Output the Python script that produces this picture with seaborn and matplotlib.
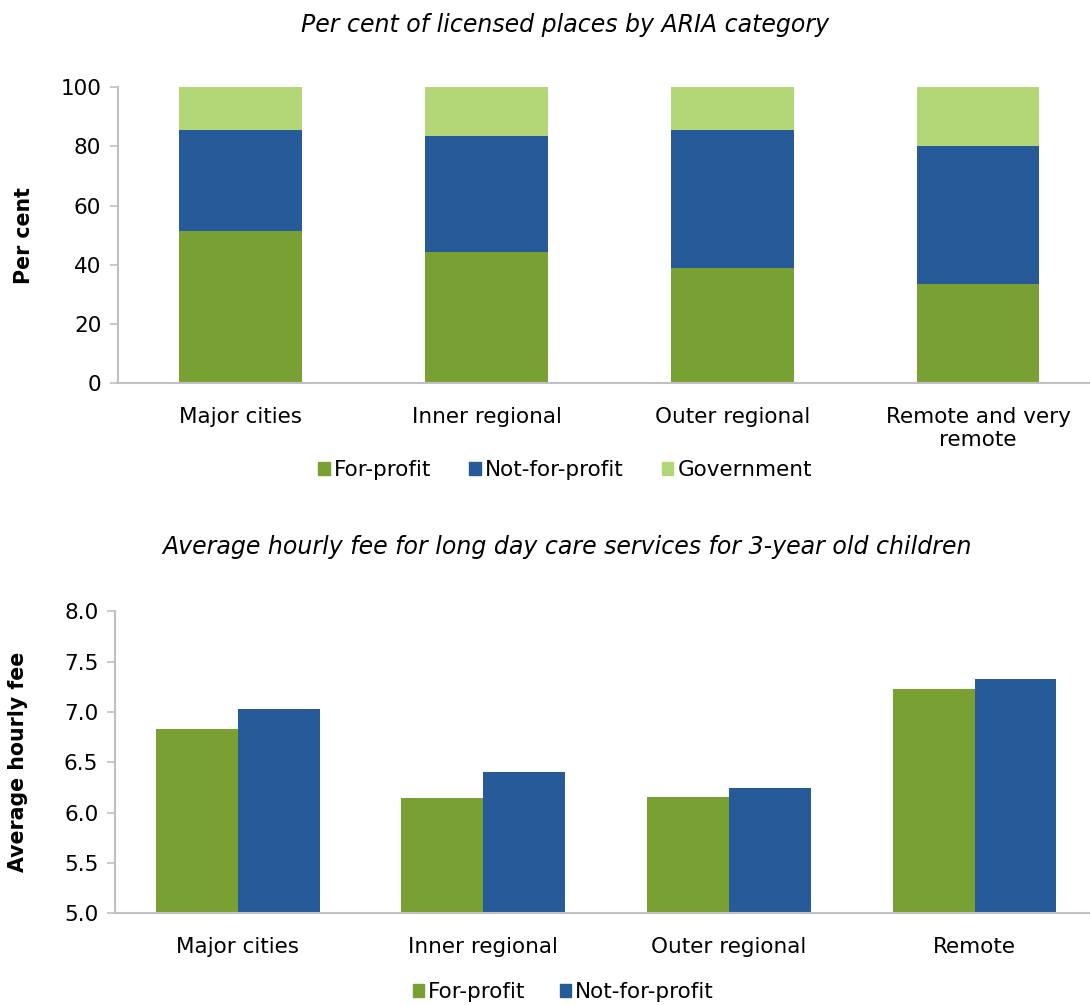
import pandas as pd
import matplotlib
matplotlib.use("Agg")
import matplotlib.pyplot as plt
from matplotlib.patches import Patch
import seaborn as sns

# ---------------------------------------------------------------------------
# Data
# ---------------------------------------------------------------------------
ARIA_CATEGORIES = ["Major cities", "Inner regional", "Outer regional", "Remote and very\nremote"]
FOR_PROFIT_SHARE = [51.6, 44.3, 39.0, 33.5]
NOT_FOR_PROFIT_SHARE = [34.0, 39.3, 46.6, 46.7]
GOVERNMENT_SHARE = [14.4, 16.4, 14.4, 19.8]

FEE_CATEGORIES = ["Major cities", "Inner regional", "Outer regional", "Remote"]
FOR_PROFIT_FEE = [6.83, 6.15, 6.16, 7.23]
NOT_FOR_PROFIT_FEE = [7.03, 6.40, 6.24, 7.33]

GREEN = "#78A032"
BLUE = "#275A99"
LIGHT_GREEN = "#B3D677"
SPINE = "#C0C0C0"

sns.set_theme(style="white")
plt.rcParams["font.family"] = ["DejaVu Sans"]
plt.rcParams["text.color"] = "#000000"
FS = 15.5
TITLE_FS = 17
LABEL_FS = 14.8


def style_axis(ax):
    sns.despine(ax=ax)
    for side in ("left", "bottom"):
        ax.spines[side].set_color(SPINE)
        ax.spines[side].set_linewidth(1.5)
    ax.tick_params(axis="y", which="both", left=True, length=6, width=1.2,
                   color=SPINE, labelsize=FS, pad=6, labelcolor="black")
    ax.tick_params(axis="x", bottom=False, labelsize=FS, pad=11, labelcolor="black")
    ax.set_xlabel("")


fig = plt.figure(figsize=(10.9, 10.05), dpi=100)

# ---------------------------------------------------------------------------
# Top: stacked share of licensed places
# ---------------------------------------------------------------------------
ax1 = fig.add_axes([118 / 1090, 1 - 383.3 / 1005, 972 / 1090, 296 / 1005])
share = pd.DataFrame({
    "category": ARIA_CATEGORIES,
    "fp": FOR_PROFIT_SHARE,
    "nfp": NOT_FOR_PROFIT_SHARE,
    "gov": GOVERNMENT_SHARE,
})
share["top"] = share["fp"] + share["nfp"] + share["gov"]
share["mid"] = share["fp"] + share["nfp"]
for col, color in (("top", LIGHT_GREEN), ("mid", BLUE), ("fp", GREEN)):
    sns.barplot(data=share, x="category", y=col, color=color, width=0.5,
                saturation=1, linewidth=0, ax=ax1)
ax1.set_ylim(0, 100)
ax1.set_yticks(range(0, 101, 20))
ax1.set_xlim(-0.5, 3.456)
ax1.set_ylabel("Per cent", fontsize=LABEL_FS, fontweight="bold", color="black")
ax1.yaxis.set_label_coords(-0.086, 0.5)
style_axis(ax1)
fig.text(565 / 1090, 1 - 25 / 1005, "Per cent of licensed places by ARIA category",
         ha="center", va="center", fontsize=TITLE_FS, style="italic")
fig.legend(handles=[Patch(color=GREEN, label="For-profit"),
                    Patch(color=BLUE, label="Not-for-profit"),
                    Patch(color=LIGHT_GREEN, label="Government")],
           loc="center", bbox_to_anchor=(565 / 1090, 1 - 470 / 1005), ncol=3,
           frameon=False, fontsize=FS, handlelength=0.55, handleheight=0.55,
           handletextpad=0.2, columnspacing=1.75)

# ---------------------------------------------------------------------------
# Bottom: average hourly fee
# ---------------------------------------------------------------------------
ax2 = fig.add_axes([115 / 1090, 1 - 913.3 / 1005, 975 / 1090, 302 / 1005])
fees = pd.DataFrame({
    "category": FEE_CATEGORIES * 2,
    "provider": ["For-profit"] * 4 + ["Not-for-profit"] * 4,
    "fee": FOR_PROFIT_FEE + NOT_FOR_PROFIT_FEE,
})
sns.barplot(data=fees, x="category", y="fee", hue="provider",
            palette=[GREEN, BLUE], width=0.667, gap=0, saturation=1,
            linewidth=0, legend=False, ax=ax2)
ax2.set_ylim(5.0, 8.0)
ax2.set_yticks([5.0, 5.5, 6.0, 6.5, 7.0, 7.5, 8.0])
ax2.set_yticklabels([f"{v:.1f}" for v in ax2.get_yticks()])
ax2.set_xlim(-0.5, 3.47)
ax2.set_ylabel("Average hourly fee", fontsize=LABEL_FS, fontweight="bold", color="black")
ax2.yaxis.set_label_coords(-0.089, 0.5)
style_axis(ax2)
fig.text(567 / 1090, 1 - 547 / 1005,
         "Average hourly fee for long day care services for 3-year old children",
         ha="center", va="center", fontsize=TITLE_FS, style="italic")
fig.legend(handles=[Patch(color=GREEN, label="For-profit"),
                    Patch(color=BLUE, label="Not-for-profit")],
           loc="center", bbox_to_anchor=(563 / 1090, 1 - 992 / 1005), ncol=2,
           frameon=False, fontsize=FS, handlelength=0.55, handleheight=0.55,
           handletextpad=0.15, columnspacing=1.6)

fig.savefig("out.png", dpi=100)
plt.close(fig)
